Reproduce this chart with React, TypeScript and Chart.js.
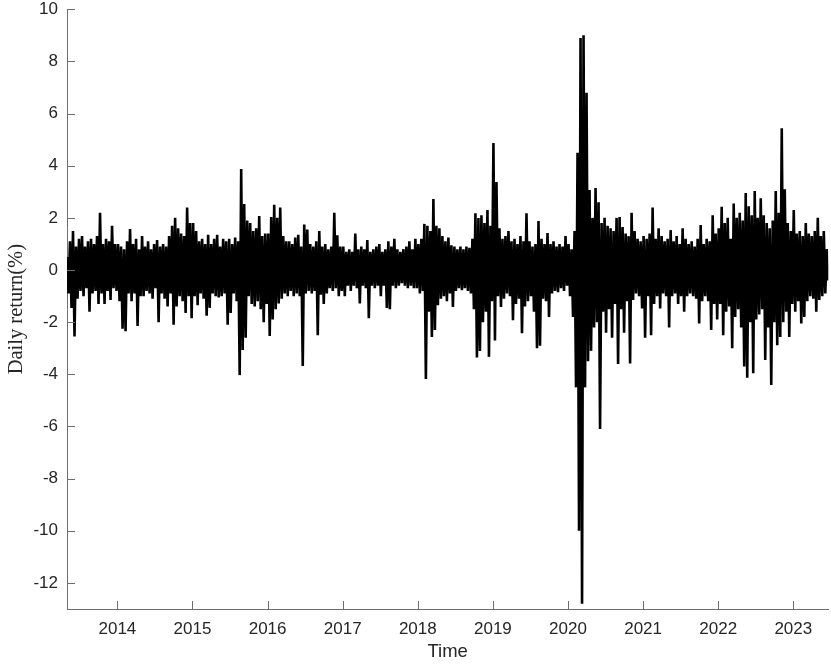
import { useEffect, useRef } from 'react';
import { Chart, registerables } from 'chart.js';

Chart.register(...registerables);

// Daily returns (%), one value per ~week-long slot, grouped by calendar year
const returns2013 = [
  0.5, -0.9, 1.1, -1.45, 1.5, -2.55, 0.9, -1.1, 1.2, -0.8,
  1.3, -1.0, 0.9, -0.7, 1.1, -1.6, 1.2, -0.9, 1.0, -0.8,
  1.3, -1.3, 2.2, -0.9, 1.0, -1.3, 1.2, -0.8, 1.1, -1.15,
  1.7, -0.7, 1.0,
];
const returns2014 = [
  -0.8, 1.0, -1.2, 0.9, -2.25, 0.8, -2.35, 1.1, -0.9, 1.57,
  -1.2, 1.0, -0.9, 1.2, -2.15, 0.8, -1.0, 1.3, -1.0, 0.9,
  -0.8, 1.1, -0.9, 0.8, -1.1, 1.0, -0.7, 1.15, -2.0, 0.9,
  -0.9, 1.0, -1.1, 0.9, -1.4, 1.3, -0.9, 1.7, -2.1, 2.0,
  -1.4, 1.6, -1.0, 1.4, -1.2, 1.3, -1.65, 2.4, -1.0, 1.8,
];
const returns2015 = [
  -1.85, 1.8, -1.0, 1.5, -1.35, 1.1, -0.9, 1.2, -1.1, 1.0,
  -1.75, 1.35, -1.45, 1.0, -0.9, 1.2, -1.0, 1.35, -1.05, 0.9,
  -1.0, 1.2, -0.9, 1.1, -2.1, 1.2, -1.65, 1.0, -0.9, 1.25,
  -1.2, 1.1, -4.03, 3.87, -3.07, 2.53, -2.6, 1.9, -1.0, 1.8,
  -1.3, 1.5, -1.4, 1.6, -1.2, 2.07, -1.5, 1.3, -2.0, 1.4,
];
const returns2016 = [
  -1.3, 1.4, -2.53, 2.03, -1.9, 2.5, -1.5, 2.0, -1.28, 2.4,
  -1.1, 1.3, -0.9, 1.1, -1.0, 1.1, -0.8, 1.0, -1.0, 1.25,
  -0.9, 1.35, -1.0, 0.9, -3.68, 1.75, -0.9, 1.55, -0.8, 1.0,
  -0.9, 0.9, -0.8, 1.1, -2.5, 1.5, -0.95, 0.9, -1.3, 1.0,
  -0.9, 0.8, -0.7, 0.9, -0.8, 2.2, -0.7, 1.33, -1.0, 0.9,
];
const returns2017 = [
  -0.8, 0.9, -1.0, 0.7, -0.6, 0.8, -0.8, 0.7, -0.6, 1.4,
  -0.7, 0.8, -1.28, 0.9, -0.6, 0.8, -0.7, 1.15, -1.85, 0.7,
  -0.6, 0.8, -0.7, 0.9, -0.6, 1.0, -1.0, 0.7, -0.6, 0.8,
  -1.45, 1.1, -1.5, 0.9, -0.6, 1.2, -0.7, 0.8, -0.6, 0.7,
  -0.5, 0.8, -0.6, 0.9, -0.7, 1.1, -0.6, 0.8, -0.7, 1.2,
];
const returns2018 = [
  -0.7, 1.0, -0.9, 1.2, -0.8, 1.77, -4.18, 1.7, -1.6, 1.5,
  -2.57, 2.72, -2.3, 1.7, -1.35, 1.6, -1.1, 1.3, -1.0, 1.1,
  -1.2, 1.25, -0.9, 0.95, -1.42, 0.9, -0.8, 0.8, -0.7, 0.9,
  -0.77, 0.8, -0.7, 0.9, -0.8, 0.85, -0.9, 1.2, -1.5, 2.18,
  -3.35, 2.0, -3.1, 2.1, -2.0, 1.8, -1.6, 2.3, -3.33, 1.7,
];
const returns2019 = [
  -1.2, 4.87, -2.7, 3.38, -1.0, 1.6, -1.42, 1.2, -1.1, 1.3,
  -0.9, 1.5, -1.0, 1.1, -1.92, 1.2, -1.3, 1.0, -1.1, 1.3,
  -2.42, 1.1, -1.4, 2.18, -1.2, 1.1, -1.0, 0.9, -1.6, 1.0,
  -3.0, 1.88, -2.9, 1.2, -1.1, 1.0, -1.2, 1.42, -1.8, 1.0,
  -0.9, 1.1, -0.8, 0.9, -0.85, 1.0, -0.7, 0.9, -0.8, 1.3,
];
const returns2020 = [
  -0.6, 1.0, -1.0, 0.8, -1.8, 1.5, -4.5, 4.5, -10.0,
  8.9, -12.8, 9.0, -4.5, 6.8, -3.5, 3.07, -3.1, 2.0, -2.2,
  3.15, -2.0, 2.6, -6.1, 1.8, -1.6, 2.0, -2.4, 1.7, -1.5,
  1.6, -2.6, 1.5, -1.3, 2.0, -3.6, 2.03, -1.5, 1.65, -2.4,
  1.4, -1.2, 1.3, -3.58, 2.2, -1.15, 1.5, -0.9, 1.2, -1.0,
];
const returns2021 = [
  1.1, -1.47, 1.3, -2.6, 1.2, -1.0, 1.4, -2.5, 2.4, -1.3,
  1.2, -1.0, 1.6, -1.47, 1.3, -0.9, 1.1, -1.0, 1.2, -2.2,
  1.53, -1.0, 1.1, -0.9, 1.3, -1.3, 1.0, -1.0, 1.6, -1.6,
  1.2, -1.0, 1.0, -0.9, 1.1, -1.0, 0.9, -1.1, 1.2, -2.05,
  1.73, -1.2, 1.0, -1.0, 1.2, -1.2, 1.1, -2.3, 2.1, -1.3,
];
const returns2022 = [
  1.4, -1.9, 1.6, -1.3, 2.43, -2.5, 1.8, -1.6, 2.0, -1.4, 1.2,
  -3.0, 2.55, -1.8, 2.0, -1.5, 2.2, -2.2, 1.9, -3.7, 2.95,
  -4.13, 2.45, -2.0, 2.1, -3.96, 3.03, -1.9, 2.0, -1.7, 2.75,
  -1.5, 2.1, -3.45, 1.8, -2.2, 1.6, -4.41, 1.9, -2.0, 3.03,
  -2.88, 2.2, -2.57, 5.44, -2.0, 3.1, -1.6, 1.8, -2.57,
];
const returns2023 = [
  1.5, -1.3, 2.3, -1.6, 1.4, -1.2, 1.5, -2.05, 1.3, -1.8,
  1.8, -1.2, 1.4, -1.0, 1.3, -1.1, 1.5, -1.6, 2.0, -1.15,
  1.3, -1.0, 1.5, -0.9, 0.8, -0.4,
];

const dailyReturns = [
  ...returns2013, ...returns2014, ...returns2015, ...returns2016, ...returns2017,
  ...returns2018, ...returns2019, ...returns2020, ...returns2021, ...returns2022, ...returns2023,
];

// Time span of the series (decimal years) and axis ticks
const FIRST_DATE = 2013.329;
const LAST_DATE = 2023.466;
const xTickYears = [2014, 2015, 2016, 2017, 2018, 2019, 2020, 2021, 2022, 2023];
const yTickValues = [-12, -10, -8, -6, -4, -2, 0, 2, 4, 6, 8, 10];
const Y_MIN = -13;
const Y_MAX = 10;

const AXIS_COLOR = '#6e6e6e';
const TEXT_COLOR = '#262626';

const innerTicks = {
  id: 'innerTicks',
  afterDatasetsDraw(chart: any) {
    const { ctx, chartArea, scales } = chart;
    ctx.save();
    ctx.strokeStyle = AXIS_COLOR;
    ctx.lineWidth = 1;
    ctx.beginPath();
    scales.x.ticks.forEach((t: any) => {
      const px = Math.round(scales.x.getPixelForValue(t.value)) + 0.5;
      ctx.moveTo(px, chartArea.bottom);
      ctx.lineTo(px, chartArea.bottom - 8);
    });
    scales.y.ticks.forEach((t: any) => {
      const py = Math.round(scales.y.getPixelForValue(t.value)) + 0.5;
      ctx.moveTo(chartArea.left, py);
      ctx.lineTo(chartArea.left + 8, py);
    });
    ctx.stroke();
    ctx.restore();
  },
};

export default function App() {
  const canvasRef = useRef<HTMLCanvasElement | null>(null);

  useEffect(() => {
    const canvas = canvasRef.current;
    if (!canvas) return;
    const step = (LAST_DATE - FIRST_DATE) / (dailyReturns.length - 1);
    const points = dailyReturns.map((v, i) => ({ x: FIRST_DATE + i * step, y: v }));

    const chart = new Chart(canvas, {
      type: 'line',
      data: {
        datasets: [
          {
            data: points,
            borderColor: '#000000',
            borderWidth: 2.6,
            pointRadius: 0,
            tension: 0,
            fill: false,
          },
        ],
      },
      options: {
        responsive: false,
        animation: false,
        events: [],
        layout: { autoPadding: false, padding: { top: 9.3, right: 2.7, left: 0, bottom: 0 } },
        plugins: { legend: { display: false }, tooltip: { enabled: false } },
        scales: {
          x: {
            type: 'linear',
            min: FIRST_DATE,
            max: LAST_DATE,
            afterBuildTicks: (scale: any) => {
              scale.ticks = xTickYears.map((v) => ({ value: v }));
            },
            afterFit: (scale: any) => {
              scale.height = 55;
              scale.paddingLeft = 0;
              scale.paddingRight = 0;
            },
            grid: { display: false, drawTicks: false },
            border: { display: true, color: AXIS_COLOR, width: 1 },
            ticks: {
              autoSkip: false,
              maxRotation: 0,
              padding: 12,
              color: TEXT_COLOR,
              font: { family: 'Liberation Sans', size: 17, lineHeight: 1 },
              callback: (v: any) => String(v),
            },
            title: {
              display: true,
              text: 'Time',
              color: TEXT_COLOR,
              font: { family: 'Liberation Sans', size: 18.5, lineHeight: 1 },
              padding: { top: 0, bottom: 3 },
            },
          },
          y: {
            type: 'linear',
            min: Y_MIN,
            max: Y_MAX,
            afterBuildTicks: (scale: any) => {
              scale.ticks = yTickValues.map((v) => ({ value: v }));
            },
            afterFit: (scale: any) => {
              scale.width = 67;
              scale.paddingTop = 0;
              scale.paddingBottom = 0;
            },
            grid: { display: false, drawTicks: false },
            border: { display: true, color: AXIS_COLOR, width: 1 },
            ticks: {
              autoSkip: false,
              padding: 9,
              color: TEXT_COLOR,
              font: { family: 'Liberation Sans', size: 17, lineHeight: 1 },
              callback: (v: any) => String(v),
            },
            title: {
              display: true,
              text: 'Daily return(%)',
              color: TEXT_COLOR,
              font: { family: 'Liberation Serif', size: 20.5, lineHeight: 1 },
              padding: { top: 6, bottom: 0 },
            },
          },
        },
      },
      plugins: [innerTicks],
    });

    return () => chart.destroy();
  }, []);

  return (
    <div style={{ position: 'absolute', left: 0, top: 0, width: 831, height: 664, background: '#ffffff' }}>
      <canvas ref={canvasRef} width={831} height={664} style={{ display: 'block' }} />
    </div>
  );
}
